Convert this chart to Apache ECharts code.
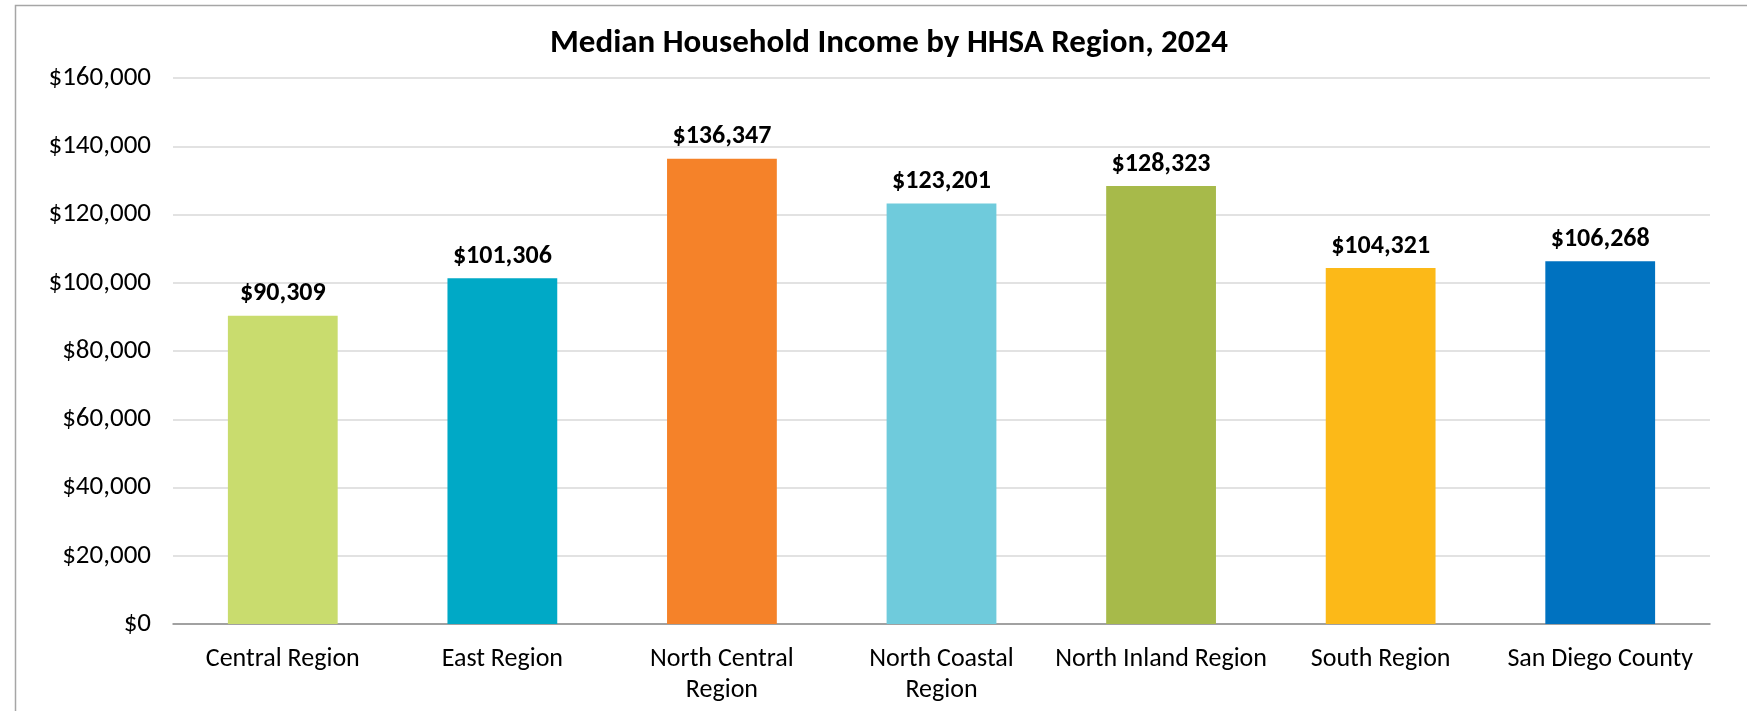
<!DOCTYPE html>
<html>
<head>
<meta charset="utf-8">
<script src="https://cdn.jsdelivr.net/npm/echarts@6/dist/echarts.min.js"></script>
<style>
html,body{margin:0;padding:0;background:#fff;}
#chart{width:1747px;height:711px;}
</style>
</head>
<body>
<div id="chart"></div>
<script>
const categories = ["Central Region", "East Region", "North Central Region", "North Coastal Region", "North Inland Region", "South Region", "San Diego County"];
const tickLabels = ["Central Region", "East Region", "North Central\nRegion", "North Coastal\nRegion", "North Inland Region", "South Region", "San Diego County"];
const incomeValues = [90309, 101306, 136347, 123201, 128323, 104321, 106268];
const barColors = ["#C9DC6E", "#00A9C6", "#F58229", "#6FCBDC", "#A7BA4A", "#FCB918", "#0072C0"];
const yTicks = [0, 20000, 40000, 60000, 80000, 100000, 120000, 140000, 160000];

const FONT = "Carlito, Lato, 'Open Sans', sans-serif";
const fmt = v => "$" + Number(v).toLocaleString("en-US");

const chart = echarts.init(document.getElementById("chart"), null, {renderer: "canvas"});
chart.setOption({
  backgroundColor: "#fff",
  animation: false,
  title: {
    text: "Median Household Income by HHSA Region, 2024",
    left: 884, top: 22, textAlign: "center",
    textStyle: {fontFamily: FONT, fontSize: 33, fontWeight: "bold", color: "#000"}
  },
  graphic: [{
    type: "rect", silent: true, z: -1,
    shape: {x: 15.5, y: 5.5, width: 1800, height: 800},
    style: {fill: "none", stroke: "#A6A6A6", lineWidth: 1.5}
  }],
  grid: {left: 173, right: 37, top: 78, bottom: 87, containLabel: false},
  xAxis: {
    type: "category",
    data: categories,
    axisLine: {show: true, lineStyle: {color: "#8C8C8C", width: 1.5}},
    axisTick: {show: false},
    axisLabel: {
      interval: 0, margin: 20, lineHeight: 31,
      fontFamily: FONT, fontSize: 26, color: "#000",
      formatter: (v, i) => tickLabels[i]
    }
  },
  yAxis: {
    type: "value", min: yTicks[0], max: yTicks[yTicks.length - 1], interval: 20000,
    axisLine: {show: false}, axisTick: {show: false},
    splitLine: {lineStyle: {color: "#D9D9D9", width: 1.5}},
    axisLabel: {margin: 22, fontFamily: FONT, fontSize: 27, color: "#000", formatter: v => fmt(v)}
  },
  series: [{
    type: "bar",
    data: incomeValues.map((v, i) => ({value: v, itemStyle: {color: barColors[i]}})),
    barWidth: "50%",
    label: {
      show: true, position: "top", distance: 9,
      fontFamily: FONT, fontSize: 26, fontWeight: "bold", color: "#000",
      formatter: p => fmt(p.value)
    }
  }]
});
</script>
</body>
</html>
